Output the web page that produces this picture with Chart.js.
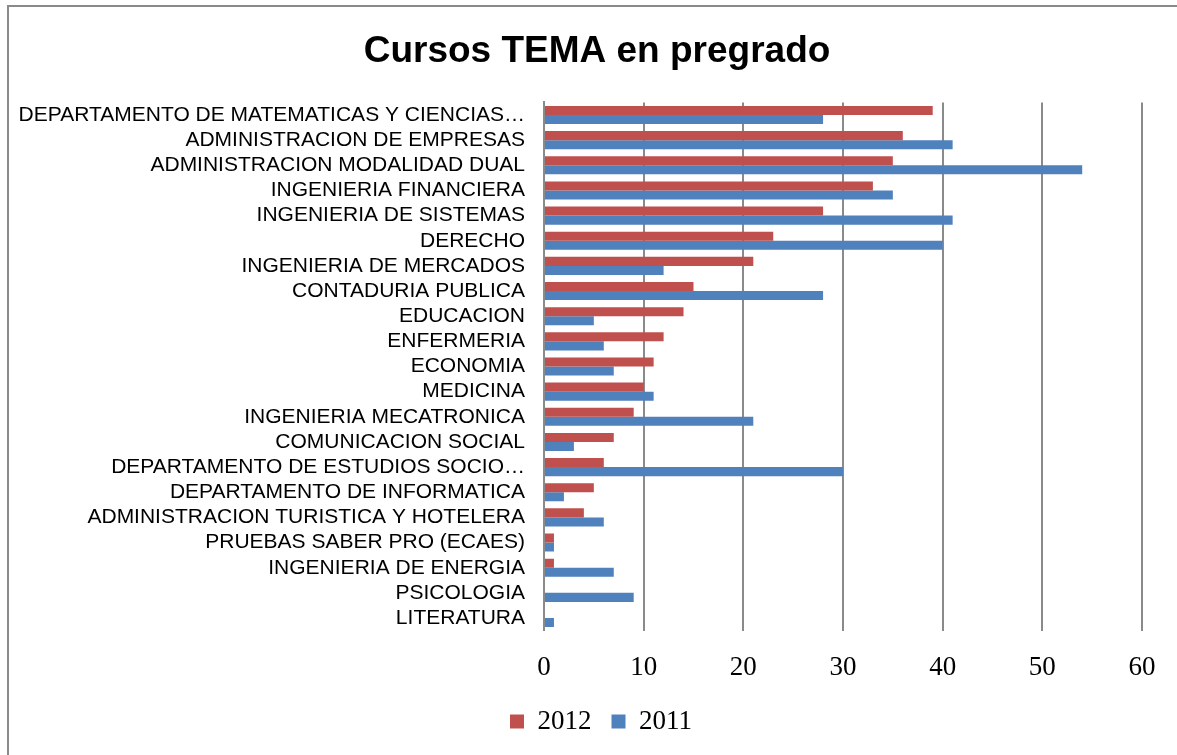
<!DOCTYPE html>
<html lang="es">
<head>
<meta charset="UTF-8">
<script src="https://cdn.jsdelivr.net/npm/chart.js@4"></script>
<title>Cursos TEMA en pregrado</title>
<style>
    body { margin: 0; background: #fff; }
    #wrap { position: absolute; left: 0; top: 0; width: 1177px; height: 755px; }
</style>
</head>
<body>
<div id="wrap"><canvas id="chart" width="1177" height="755"></canvas></div>
<script>
var programas = [
    "DEPARTAMENTO DE MATEMATICAS Y CIENCIAS\u2026",
    "ADMINISTRACION DE EMPRESAS",
    "ADMINISTRACION MODALIDAD DUAL",
    "INGENIERIA FINANCIERA",
    "INGENIERIA DE SISTEMAS",
    "DERECHO",
    "INGENIERIA DE MERCADOS",
    "CONTADURIA PUBLICA",
    "EDUCACION",
    "ENFERMERIA",
    "ECONOMIA",
    "MEDICINA",
    "INGENIERIA MECATRONICA",
    "COMUNICACION SOCIAL",
    "DEPARTAMENTO DE ESTUDIOS SOCIO\u2026",
    "DEPARTAMENTO DE INFORMATICA",
    "ADMINISTRACION TURISTICA Y HOTELERA",
    "PRUEBAS SABER PRO (ECAES)",
    "INGENIERIA DE ENERGIA",
    "PSICOLOGIA",
    "LITERATURA"
];
var cursos2012 = [39, 36, 35, 33, 28, 23, 21, 15, 14, 12, 11, 10, 9, 7, 6, 5, 4, 1, 1, 0, 0];
var cursos2011 = [28, 41, 54, 35, 41, 40, 12, 28, 5, 6, 7, 11, 21, 3, 30, 2, 6, 1, 7, 9, 1];
var ejeX = [0, 10, 20, 30, 40, 50, 60];

var gris = "#8a8a8a";

// white background + the grey frame (only top and left edges are visible)
var marco = {
    id: 'marco',
    beforeDraw: function (chart) {
        var ctx = chart.ctx;
        ctx.save();
        ctx.fillStyle = "#fff";
        ctx.fillRect(0, 0, chart.width, chart.height);
        ctx.strokeStyle = gris;
        ctx.lineWidth = 2;
        ctx.beginPath();
        ctx.moveTo(8, chart.height);
        ctx.lineTo(8, 6);
        ctx.lineTo(chart.width, 6);
        ctx.stroke();
        ctx.restore();
    },
    afterLayout: function (chart) {
        // title and legend sit a bit right of the canvas centre in the original
        chart.titleBlock.left += 22; chart.titleBlock.right += 22;
        chart.legend.left += 26; chart.legend.right += 26;
        chart.legend.top -= 17; chart.legend.bottom -= 17;
    }
};

var ctx = document.getElementById("chart");
var chart = new Chart(ctx, {
    type: 'bar',
    data: {
        labels: programas,
        datasets: [
            { label: '2012', data: cursos2012, backgroundColor: "#c0504d", borderWidth: 0 },
            { label: '2011', data: cursos2011, backgroundColor: "#4f81bd", borderWidth: 0 }
        ]
    },
    plugins: [marco],
    options: {
        indexAxis: 'y',
        responsive: false,
        animation: false,
        layout: { padding: { left: 8, right: 35, top: 0, bottom: -7 } },
        datasets: { bar: { categoryPercentage: 0.72, barPercentage: 1.0 } },
        scales: {
            x: {
                min: 0, max: 60,
                afterBuildTicks: function (s) { s.ticks = ejeX.map(function (v) { return { value: v }; }); },
                grid: { color: gris, lineWidth: 2, drawTicks: false },
                border: { display: false },
                ticks: { color: "#000", padding: 21, font: { family: "Liberation Serif", size: 27 } }
            },
            y: {
                afterFit: function (s) { s.width = 536; },
                grid: { display: false, drawTicks: false },
                border: { display: true, color: gris, width: 2 },
                ticks: { color: "#000", padding: 19, autoSkip: false, font: { family: "Liberation Sans", size: 21 } }
            }
        },
        plugins: {
            title: {
                display: true,
                text: 'Cursos TEMA en pregrado',
                color: "#000",
                font: { family: "Liberation Sans", size: 37, weight: 'bold' },
                padding: { top: 30, bottom: 28 }
            },
            legend: {
                position: 'bottom',
                labels: {
                    color: "#000",
                    boxWidth: 14, boxHeight: 14,
                    padding: 20,
                    font: { family: "Liberation Serif", size: 27 }
                }
            },
            tooltip: { enabled: false }
        }
    }
});
</script>
</body>
</html>
